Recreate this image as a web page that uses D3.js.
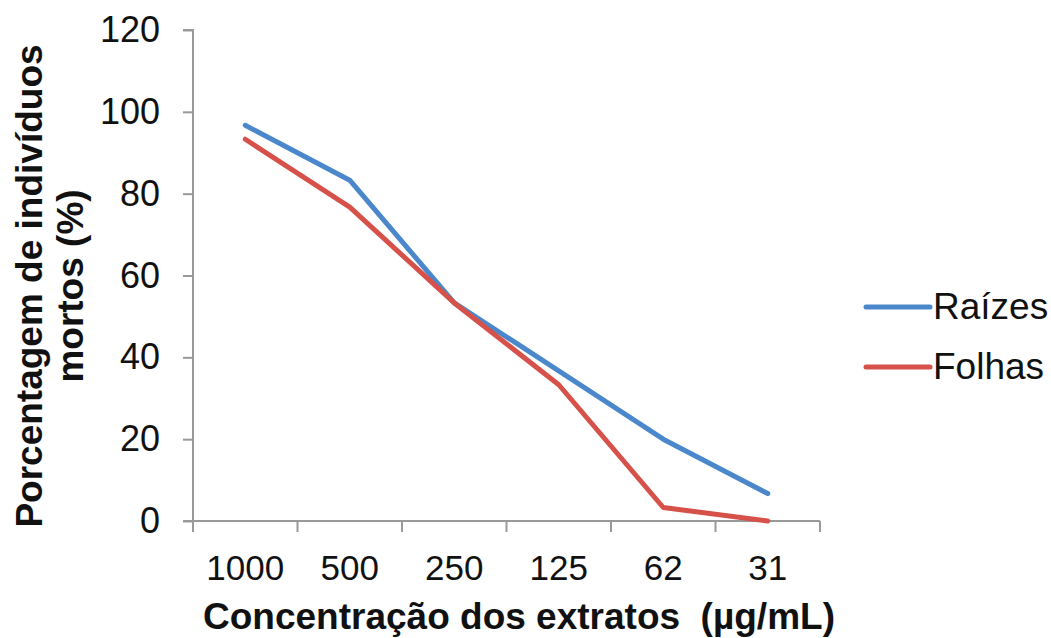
<!DOCTYPE html>
<html>
<head>
<meta charset="utf-8">
<script src="https://cdn.jsdelivr.net/npm/d3@7"></script>
<style>
  html, body { margin: 0; padding: 0; background: #fff; }
  svg { display: block; font-family: "Liberation Sans", Arial, sans-serif; }
</style>
</head>
<body>
<svg id="chart" width="1051" height="638"></svg>
<script>
// Concentrations of the extracts (µg/mL)
const concentrations = ["1000", "500", "250", "125", "62", "31"];
// Percentage of dead individuals per extract
const raizes = [96.7, 83.3, 53.3, 36.7, 20, 6.7];
const folhas = [93.3, 76.7, 53.3, 33.3, 3.3, 0];
const yTicks = [0, 20, 40, 60, 80, 100, 120];

const seriesList = [
  { name: "Raízes", values: raizes, color: "#4a88cb" },
  { name: "Folhas", values: folhas, color: "#d65149" }
];

const svg = d3.select("#chart");
const margin = { left: 193, top: 30, right: 231, bottom: 117 };
const width = 1051 - margin.left - margin.right;
const height = 638 - margin.top - margin.bottom;

const g = svg.append("g").attr("transform", `translate(${margin.left},${margin.top})`);

const x = d3.scaleBand().domain(concentrations).range([0, width]);
const y = d3.scaleLinear().domain([0, 120]).range([height, 0]);

// Y axis
const yAxis = g.append("g")
  .call(d3.axisLeft(y).tickValues(yTicks).tickSize(10).tickPadding(23).tickFormat(d3.format("d")));
yAxis.select(".domain").attr("stroke", "#999").attr("stroke-width", 2).attr("d", `M-10,0H0V${height}H-10`);
yAxis.selectAll(".tick line").attr("stroke", "#999").attr("stroke-width", 2);
yAxis.selectAll(".tick text").attr("font-size", 36).attr("fill", "#111");

// X axis: ticks at band boundaries, labels at band centres
const xAxis = g.append("g").attr("transform", `translate(0,${height})`);
xAxis.append("line").attr("x1", 0).attr("x2", width).attr("y1", 0).attr("y2", 0)
  .attr("stroke", "#999").attr("stroke-width", 2);
const boundaries = concentrations.map(c => x(c)).concat([width]);
xAxis.selectAll("line.tk").data(boundaries).join("line").attr("class", "tk")
  .attr("x1", d => d).attr("x2", d => d).attr("y1", 0).attr("y2", 11)
  .attr("stroke", "#999").attr("stroke-width", 2);
xAxis.selectAll("text.lbl").data(concentrations).join("text").attr("class", "lbl")
  .attr("x", d => x(d) + x.bandwidth() / 2).attr("y", 59)
  .attr("text-anchor", "middle").attr("font-size", 35).attr("fill", "#111")
  .text(d => d);

// Lines
const line = d3.line()
  .x((d, i) => x(concentrations[i]) + x.bandwidth() / 2)
  .y(d => y(d));

g.selectAll("path.series").data(seriesList).join("path").attr("class", "series")
  .attr("d", d => line(d.values))
  .attr("fill", "none").attr("stroke", d => d.color)
  .attr("stroke-width", 5).attr("stroke-linejoin", "round").attr("stroke-linecap", "round");

// Axis titles
svg.append("text")
  .attr("x", 519).attr("y", 629)
  .attr("text-anchor", "middle").attr("font-size", 37).attr("font-weight", "bold").attr("fill", "#111")
  .attr("xml:space", "preserve")
  .text("Concentração dos extratos  (µg/mL)");

const yTitle = svg.append("text")
  .attr("transform", "translate(0,286) rotate(-90)")
  .attr("text-anchor", "middle").attr("font-size", 37).attr("font-weight", "bold").attr("fill", "#111");
yTitle.append("tspan").attr("x", 0).attr("y", 42).text("Porcentagem de indivíduos");
yTitle.append("tspan").attr("x", 0).attr("y", 83).text("mortos (%)");

// Legend
const legend = svg.append("g");
const items = legend.selectAll("g").data(seriesList).join("g")
  .attr("transform", (d, i) => `translate(866,${307 + i * 60})`);
items.append("line").attr("x1", 0).attr("x2", 64).attr("y1", 0).attr("y2", 0)
  .attr("stroke", d => d.color).attr("stroke-width", 5).attr("stroke-linecap", "round");
items.append("text").attr("x", 67).attr("y", 12).attr("font-size", 37).attr("fill", "#111")
  .text(d => d.name);
</script>
</body>
</html>
